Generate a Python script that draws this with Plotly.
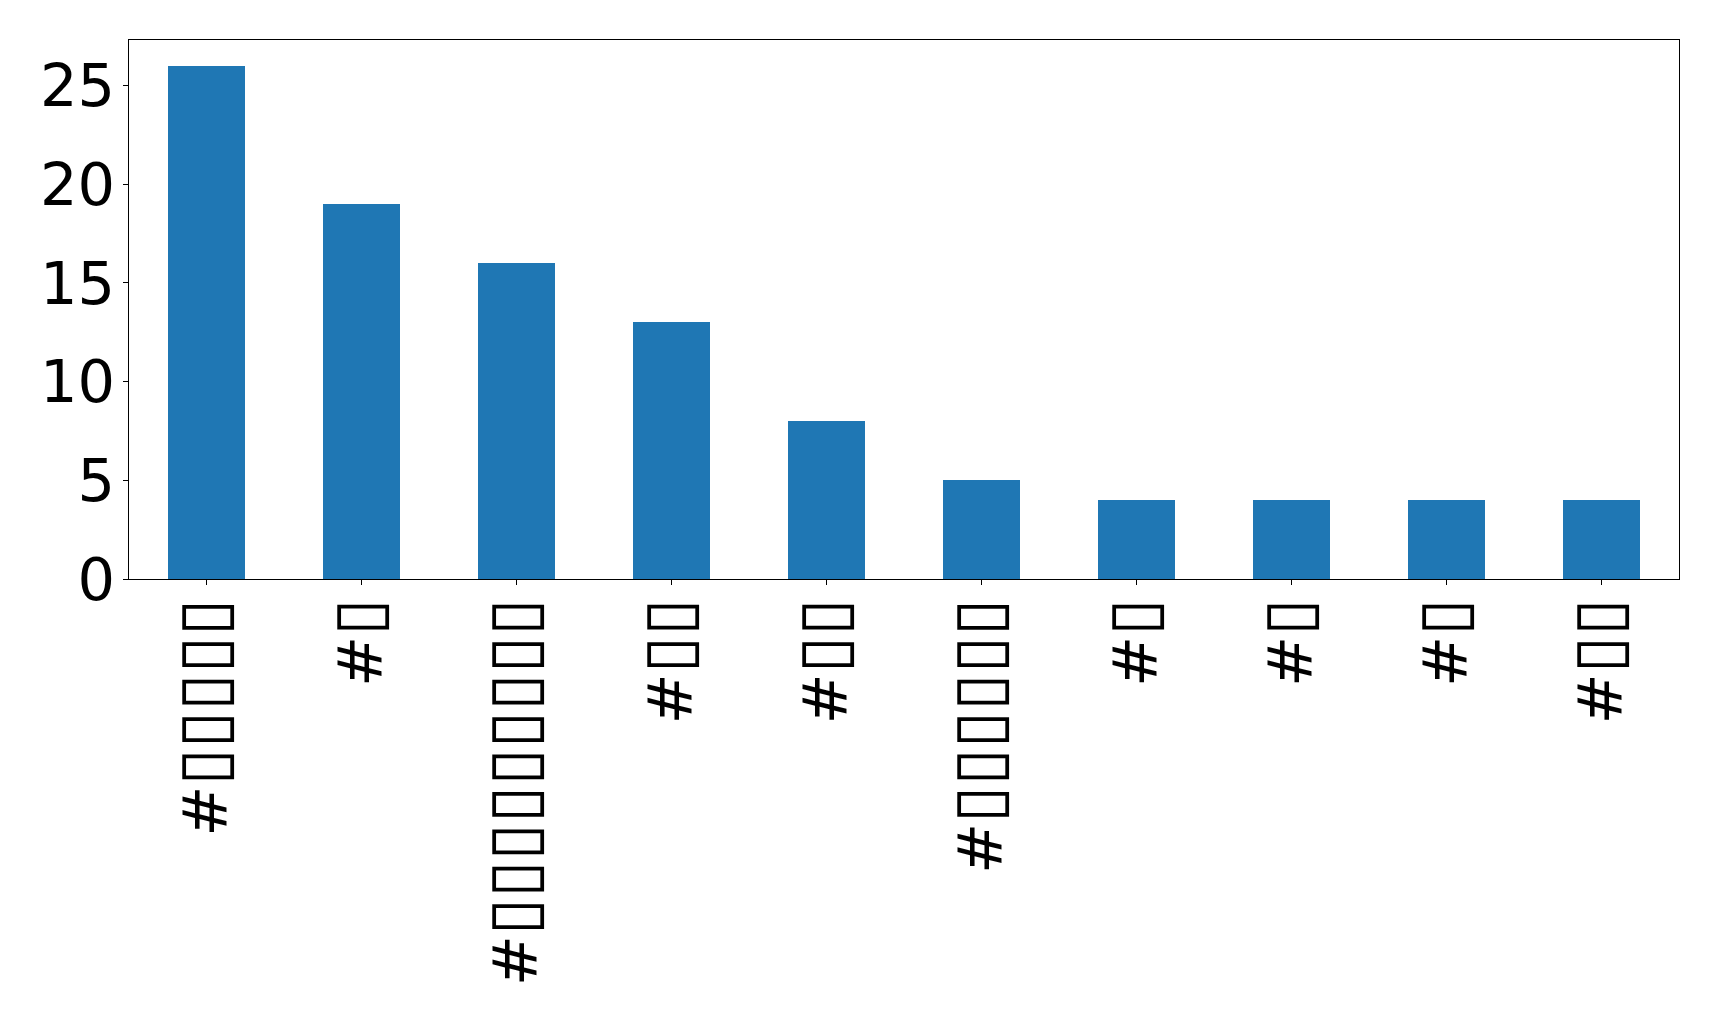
import plotly.graph_objects as go

labels = ["#▯▯▯▯▯", "#▯", "#▯▯▯▯▯▯▯▯▯", "#▯▯", "#▯▯", "#▯▯▯▯▯▯", "#▯", "#▯", "#▯", "#▯▯"]
values = [26, 19, 16, 13, 8, 5, 4, 4, 4, 4]
positions = list(range(len(labels)))

# render the box (missing-glyph) characters a bit larger, like the reference
tick_text = [lab[0] + '<span style="font-size:68px">' + lab[1:] + "</span>" for lab in labels]

fig = go.Figure(
    go.Bar(x=positions, y=values, width=0.5, marker=dict(color="#1f77b4", line=dict(width=0)))
)

axis_common = dict(
    showline=True, linecolor="black", linewidth=1.1, mirror=True,
    ticks="outside", ticklen=5, tickwidth=1, tickcolor="black",
    showgrid=False, zeroline=False,
)

fig.update_layout(
    width=1711, height=1010,
    margin=dict(l=121, r=40, t=32, b=439),
    paper_bgcolor="white", plot_bgcolor="white",
    showlegend=False,
    bargap=0,
    xaxis=dict(range=[-0.5, 9.5], tickmode="array", tickvals=positions, ticktext=tick_text,
               tickangle=-90, ticklabelstandoff=-11,
               tickfont=dict(family="DejaVu Sans", size=61, color="black"), **axis_common),
    yaxis=dict(range=[0, 27.3], tickmode="array", tickvals=[0, 5, 10, 15, 20, 25],
               ticklabelstandoff=-4,
               tickfont=dict(family="DejaVu Sans", size=59, color="black"), **axis_common),
)

fig.write_html("out.html")
